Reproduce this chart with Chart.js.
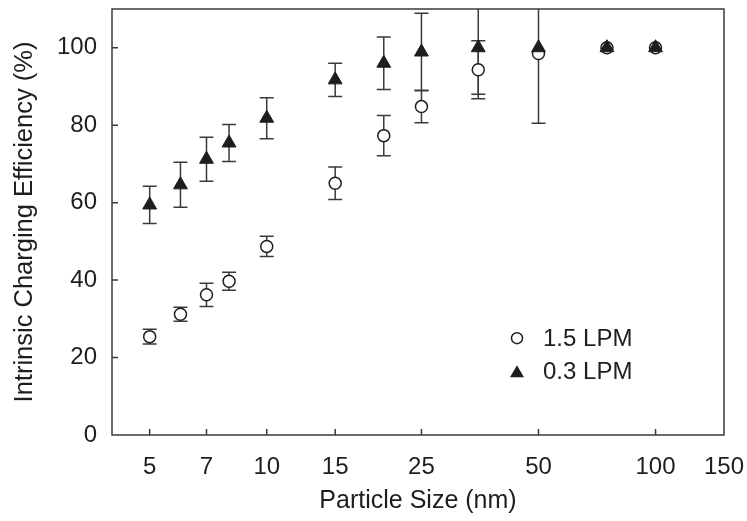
<!DOCTYPE html>
<html>
<head>
<meta charset="utf-8">
<script src="https://cdn.jsdelivr.net/npm/chart.js@4/dist/chart.umd.min.js"></script>
<style>
  html, body { margin: 0; padding: 0; background: #fff; }
  #wrap { width: 747px; height: 521px; position: relative; }
</style>
</head>
<body>
<div id="wrap"><canvas id="c" width="747" height="521"></canvas></div>
<script>
// ---- data ----
const sizes   = [5, 6, 7, 8, 10, 15, 20, 25, 35, 50, 75, 100];            // particle size (nm)
const eff15   = [25.4, 31.2, 36.2, 39.7, 48.7, 65.0, 77.3, 84.8, 94.3, 98.5, 100, 100]; // 1.5 LPM
const err15   = [1.9, 1.8, 3.0, 2.3, 2.6, 4.2, 5.2, 4.2, 7.5, 18, 0, 0];
const eff03   = [59.4, 64.6, 71.2, 75.4, 81.8, 91.7, 96.0, 98.9, 100, 100, 100, 100]; // 0.3 LPM
const err03   = [4.8, 5.8, 5.7, 4.8, 5.3, 4.3, 6.8, 10, 12, 0, 0, 0];
const xTicks  = [5, 7, 10, 15, 25, 50, 100, 150];
const yTicks  = [0, 20, 40, 60, 80, 100];
const seriesNames = ['1.5 LPM', '0.3 LPM'];

const FONT = "'Liberation Sans', Arial, sans-serif";
const INK = '#1e1e1e';
const AXIS = '#3a3a3a';

function pts(ys, es) {
  return sizes.map((x, i) => ({ x: x, y: ys[i], e: es[i] }));
}

// error bars, frame, inward ticks and legend
const extras = {
  id: 'extras',
  beforeDatasetsDraw(chart) {
    const { ctx, chartArea: a, scales: { x, y } } = chart;
    ctx.save();
    ctx.beginPath();
    ctx.rect(a.left, a.top, a.right - a.left, a.bottom - a.top);
    ctx.clip();
    ctx.strokeStyle = AXIS;
    ctx.lineWidth = 1.5;
    chart.data.datasets.forEach(ds => {
      ds.data.forEach(p => {
        if (!p.e) return;
        const px = x.getPixelForValue(p.x);
        const y1 = y.getPixelForValue(p.y + p.e);
        const y2 = y.getPixelForValue(p.y - p.e);
        ctx.beginPath();
        ctx.moveTo(px, y1); ctx.lineTo(px, y2);
        ctx.moveTo(px - 7, y1); ctx.lineTo(px + 7, y1);
        ctx.moveTo(px - 7, y2); ctx.lineTo(px + 7, y2);
        ctx.stroke();
      });
    });
    ctx.restore();
  },
  afterDraw(chart) {
    const { ctx, chartArea: a, scales: { x, y } } = chart;
    ctx.save();
    ctx.strokeStyle = AXIS;
    ctx.lineWidth = 1.5;
    ctx.strokeRect(a.left, a.top, a.right - a.left, a.bottom - a.top);
    ctx.beginPath();
    xTicks.forEach(v => {
      const px = x.getPixelForValue(v);
      if (px > a.right - 2) return;
      ctx.moveTo(px, a.bottom); ctx.lineTo(px, a.bottom - 6);
    });
    yTicks.forEach(v => {
      const py = y.getPixelForValue(v);
      if (py > a.bottom - 2) return;
      ctx.moveTo(a.left, py); ctx.lineTo(a.left + 6, py);
    });
    ctx.stroke();

    // legend
    const lx = a.left + 405, ly1 = y.getPixelForValue(25), ly2 = y.getPixelForValue(16.3);
    ctx.lineWidth = 1.5;
    ctx.strokeStyle = INK;
    ctx.fillStyle = '#fff';
    ctx.beginPath(); ctx.arc(lx, ly1, 5.5, 0, Math.PI * 2); ctx.fill(); ctx.stroke();
    ctx.fillStyle = INK;
    ctx.beginPath();
    ctx.moveTo(lx, ly2 - 6.5); ctx.lineTo(lx + 7, ly2 + 5.5); ctx.lineTo(lx - 7, ly2 + 5.5);
    ctx.closePath(); ctx.fill();
    ctx.font = '24px ' + FONT;
    ctx.textBaseline = 'middle';
    ctx.textAlign = 'left';
    ctx.fillText(seriesNames[0], lx + 26, ly1 + 1);
    ctx.fillText(seriesNames[1], lx + 26, ly2 + 1);
    ctx.restore();
  }
};

new Chart(document.getElementById('c'), {
  type: 'scatter',
  data: {
    datasets: [
      {
        label: seriesNames[0],
        data: pts(eff15, err15),
        pointStyle: 'circle',
        pointRadius: 6,
        pointBackgroundColor: '#fff',
        pointBorderColor: INK,
        pointBorderWidth: 1.5,
        order: 2
      },
      {
        label: seriesNames[1],
        data: pts(eff03, err03),
        pointStyle: 'triangle',
        pointRadius: 8,
        pointBackgroundColor: INK,
        pointBorderColor: INK,
        pointBorderWidth: 1,
        order: 1
      }
    ]
  },
  options: {
    responsive: false,
    animation: false,
    events: [],
    layout: { padding: { top: 8, right: 23, left: 0, bottom: 0 } },
    plugins: { legend: { display: false }, tooltip: { enabled: false } },
    scales: {
      x: {
        type: 'logarithmic',
        min: 4, max: 150,
        afterBuildTicks(s) { s.ticks = xTicks.map(v => ({ value: v })); },
        afterFit(s) { s.height = 86; s.paddingLeft = 0; s.paddingRight = 0; },
        grid: { display: false, drawTicks: false },
        border: { display: false },
        ticks: {
          autoSkip: false, maxRotation: 0, padding: 18,
          color: INK, font: { family: FONT, size: 24 },
          callback: v => String(v)
        },
        title: {
          display: true, text: 'Particle Size (nm)', color: INK,
          font: { family: FONT, size: 25 }, padding: { top: 0, bottom: 5 }
        }
      },
      y: {
        min: 0, max: 110,
        afterBuildTicks(s) { s.ticks = yTicks.map(v => ({ value: v })); },
        afterFit(s) { s.width = 112; s.paddingTop = 0; s.paddingBottom = 0; },
        grid: { display: false, drawTicks: false },
        border: { display: false },
        ticks: {
          padding: 15, color: INK, font: { family: FONT, size: 24 },
          callback: v => String(v)
        },
        title: {
          display: true, text: 'Intrinsic Charging Efficiency (%)', color: INK,
          font: { family: FONT, size: 25.5 }, padding: { top: 10, bottom: 0 }
        }
      }
    }
  },
  plugins: [extras]
});
</script>
</body>
</html>
